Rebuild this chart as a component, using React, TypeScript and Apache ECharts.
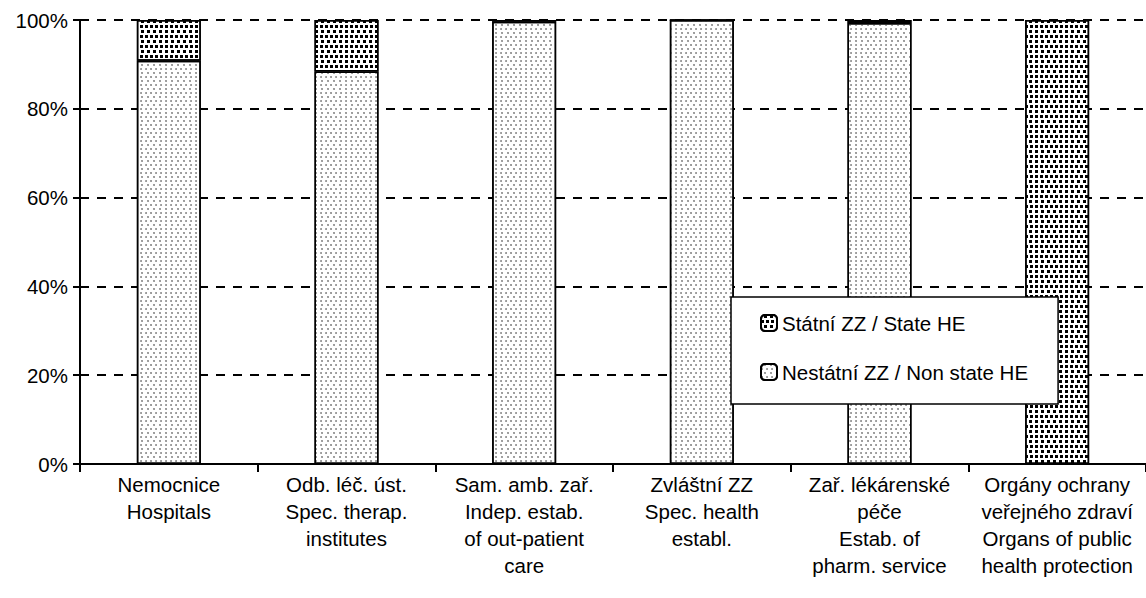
import React, { useEffect, useRef } from "react";
import * as echarts from "echarts";

const categories = [
  "Nemocnice\nHospitals",
  "Odb. léč. úst.\nSpec. therap.\ninstitutes",
  "Sam. amb. zař.\nIndep. estab.\nof out-patient\ncare",
  "Zvláštní ZZ\nSpec. health\nestabl.",
  "Zař. lékárenské\npéče\nEstab. of\npharm. service",
  "Orgány ochrany\nveřejného zdraví\nOrgans of public\nhealth protection",
];
const nonStateValues = [90.8, 88.4, 99.6, 100, 99.3, 0];
const stateValues = [9.2, 11.6, 0.4, 0, 0.7, 100];
const stateName = "Státní ZZ / State HE";
const nonStateName = "Nestátní ZZ / Non state HE";

const FONT = "'Liberation Sans', Arial, sans-serif";
const FS = 20.5;

export default function App() {
  const ref = useRef<HTMLDivElement>(null);
  useEffect(() => {
    const chart = echarts.init(ref.current!, null, { renderer: "svg" });
    const stateDecal = {
      symbol: "rect",
      symbolSize: 1,
      color: "#000",
      backgroundColor: "#fff",
      dashArrayX: [[3, 1.8], [0, 2.4, 3, 0]],
      dashArrayY: [3, 1.2],
      rotation: 0,
    };
    const nonStateDecal = {
      symbol: "circle",
      symbolSize: 0.8,
      color: "#6a6a6a",
      backgroundColor: "#fff",
      dashArrayX: [[2, 3], [0, 2.5, 2, 0.5]],
      dashArrayY: [2, 1.5],
      rotation: 0,
    };
    chart.setOption({
      animation: false,
      textStyle: { fontFamily: FONT },
      grid: { left: 80, top: 20, bottom: 134, right: -11 },
      legend: {
        orient: "vertical",
        left: 731,
        top: 297,
        padding: [15, 30, 21, 29],
        itemGap: 27,
        itemWidth: 16,
        itemHeight: 16,
        backgroundColor: "#fff",
        borderColor: "#000",
        borderWidth: 1.5,
        borderRadius: 0,
        data: [stateName, nonStateName],
        textStyle: { fontSize: FS, color: "#000", fontFamily: FONT, lineHeight: 22 },
      },
      xAxis: {
        type: "category",
        data: categories,
        axisLine: { lineStyle: { color: "#000", width: 2 } },
        axisTick: { show: true, length: 8, lineStyle: { color: "#000", width: 2 } },
        axisLabel: {
          interval: 0,
          color: "#000",
          fontSize: FS,
          lineHeight: 27,
          margin: 7,
          fontFamily: FONT,
        },
      },
      yAxis: {
        type: "value",
        min: 0,
        max: 100,
        interval: 20,
        axisLine: { show: true, lineStyle: { color: "#000", width: 2 } },
        axisTick: { show: true, length: 7, lineStyle: { color: "#000", width: 2 } },
        axisLabel: {
          formatter: "{value}%",
          color: "#000",
          fontSize: FS,
          margin: 12,
          fontFamily: FONT,
        },
        splitLine: {
          show: true,
          lineStyle: { color: "#000", width: 2, type: [9, 8] },
        },
      },
      series: [
        {
          name: nonStateName,
          type: "bar",
          stack: "total",
          data: nonStateValues,
          barWidth: 64,
          itemStyle: { color: "#fff", borderColor: "#000", borderWidth: 1.5, decal: nonStateDecal },
        },
        {
          name: stateName,
          type: "bar",
          stack: "total",
          data: stateValues,
          barWidth: 64,
          itemStyle: { color: "#fff", borderColor: "#000", borderWidth: 1.5, decal: stateDecal },
        },
      ],
    });
    return () => chart.dispose();
  }, []);
  return (
    <div
      ref={ref}
      style={{ position: "fixed", left: 0, top: 0, width: 1146, height: 598, background: "#fff" }}
    />
  );
}
